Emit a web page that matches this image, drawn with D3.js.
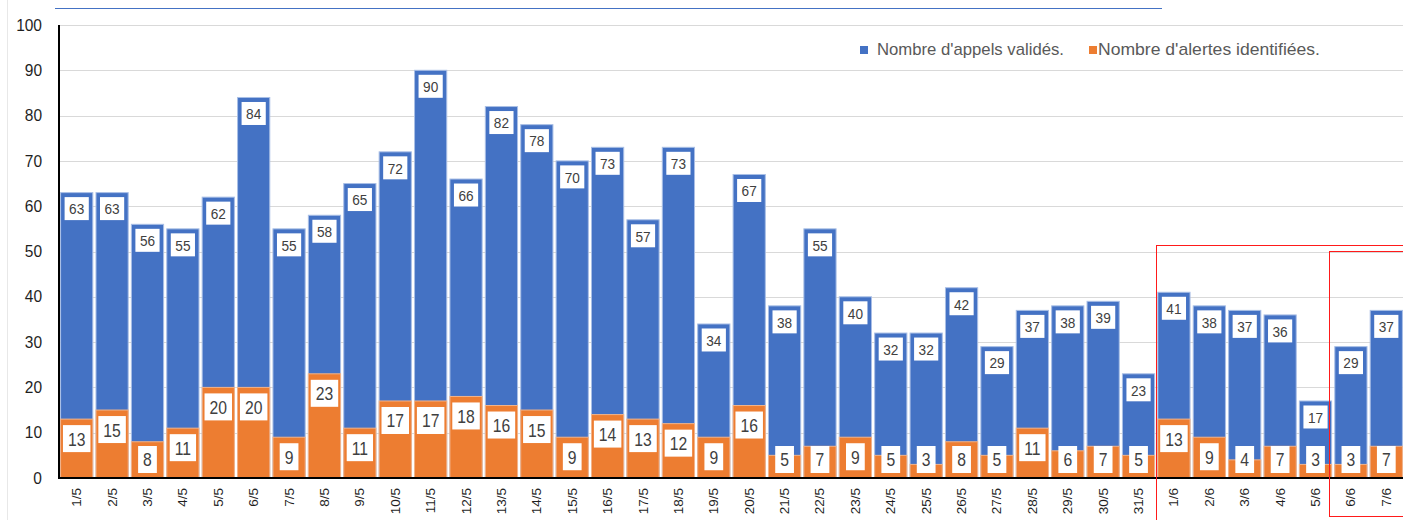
<!DOCTYPE html>
<html><head><meta charset="utf-8">
<script src="https://cdn.jsdelivr.net/npm/d3@7"></script>
<style>
html,body{margin:0;padding:0;background:#fff;}
svg{display:block;}
svg text{font-family:"Liberation Sans",Arial,sans-serif;}
</style></head>
<body><svg id="c" width="1403" height="520"></svg>
<script>
const dates = ["1/5","2/5","3/5","4/5","5/5","6/5","7/5","8/5","9/5","10/5","11/5","12/5","13/5","14/5","15/5","16/5","17/5","18/5","19/5","20/5","21/5","22/5","23/5","24/5","25/5","26/5","27/5","28/5","29/5","30/5","31/5","1/6","2/6","3/6","4/6","5/6","6/6","7/6"];
const appels = [63,63,56,55,62,84,55,58,65,72,90,66,82,78,70,73,57,73,34,67,38,55,40,32,32,42,29,37,38,39,23,41,38,37,36,17,29,37];
const alertes = [13,15,8,11,20,20,9,23,11,17,17,18,16,15,9,14,13,12,9,16,5,7,9,5,3,8,5,11,6,7,5,13,9,4,7,3,3,7];
const yTicks = [0,10,20,30,40,50,60,70,80,90,100];
const seriesNames = ["Nombre d'appels validés.","Nombre d'alertes identifiées."];
const colors = ["#4472C4","#ED7D31"];

const svg = d3.select("#c");
const x = d3.scaleBand().domain(dates).range([59,1404]).paddingInner(0.09).paddingOuter(0.045);
const y = d3.scaleLinear().domain([0,100]).range([478,25]);

// faint left border
svg.append("line").attr("x1",7.5).attr("x2",7.5).attr("y1",0).attr("y2",520).attr("stroke","#e8e8e8");
// top blue line
svg.append("line").attr("x1",55).attr("x2",1162).attr("y1",8.5).attr("y2",8.5).attr("stroke","#4472C4").attr("stroke-width",1);

// grid
svg.append("g").selectAll("line").data(yTicks.filter(d=>d>0)).join("line")
  .attr("x1",59).attr("x2",1403).attr("y1",d=>Math.round(y(d))+0.5).attr("y2",d=>Math.round(y(d))+0.5)
  .attr("stroke","#d9d9d9").attr("stroke-width",1);

// y tick labels
svg.append("g").selectAll("text").data(yTicks).join("text")
  .attr("transform",d=>`translate(42,${y(d)}) scale(0.94,1)`)
  .attr("text-anchor","end").attr("dominant-baseline","central")
  .attr("font-size",16.5).attr("fill","#1f1f1f").text(d=>d);

// blue bars
svg.append("g").selectAll("rect").data(dates).join("rect")
  .attr("x",d=>x(d)).attr("width",x.bandwidth())
  .attr("y",(d,i)=>y(appels[i])).attr("height",(d,i)=>y(0)-y(appels[i]))
  .attr("fill",colors[0]).attr("stroke","#a9bfe6").attr("stroke-width",1);
// orange bars
svg.append("g").selectAll("rect").data(dates).join("rect")
  .attr("x",d=>x(d)).attr("width",x.bandwidth())
  .attr("y",(d,i)=>y(alertes[i])).attr("height",(d,i)=>y(0)-y(alertes[i]))
  .attr("fill",colors[1]).attr("stroke","#f3b48a").attr("stroke-width",1);

// labels
function addLabel(g, cx, top, val, fs, sx, h, pad){
  const t = g.append("text").attr("font-size",fs).attr("fill","#404040")
    .attr("text-anchor","middle").attr("dominant-baseline","central").text(val);
  const w = t.node().getComputedTextLength()*sx + pad;
  g.insert("rect","text").attr("x",cx-w/2).attr("y",top).attr("width",w).attr("height",h).attr("fill","#fff");
  t.attr("transform",`translate(${cx},${top+h/2+0.5}) scale(${sx},1)`);
}
const lg = svg.append("g");
dates.forEach((d,i)=>{
  const cx = x(d)+x.bandwidth()/2;
  addLabel(lg.append("g"), cx, y(appels[i])+4.5, appels[i], 15.5, 0.88, 23, 9);
  addLabel(lg.append("g"), cx, Math.min(y(alertes[i])+6, 446), alertes[i], 18.5, 0.85, 27, 10);
});

// axes lines
svg.append("line").attr("x1",59).attr("x2",59).attr("y1",25).attr("y2",479).attr("stroke","#000").attr("stroke-width",2);
svg.append("line").attr("x1",58).attr("x2",1403).attr("y1",478).attr("y2",478).attr("stroke","#000").attr("stroke-width",2);

// x labels
svg.append("g").selectAll("text").data(dates).join("text")
  .attr("transform",d=>`translate(${x(d)+x.bandwidth()/2},488) rotate(-90)`)
  .attr("text-anchor","end").attr("dominant-baseline","central")
  .attr("font-size",13.5).attr("fill","#1f1f1f").text(d=>d);

// legend
const legX = [860,1089], legTX = [877,1098], legW = [187,222];
seriesNames.forEach((n,i)=>{
  svg.append("rect").attr("x",legX[i]).attr("y",46).attr("width",8).attr("height",8).attr("fill",colors[i]);
  svg.append("text").attr("x",legTX[i]).attr("y",54.5).attr("font-size",17).attr("fill","#595959")
    .attr("textLength",legW[i]).attr("lengthAdjust","spacingAndGlyphs").text(n);
});

// red highlight rectangles
svg.append("rect").attr("x",1156.5).attr("y",245.5).attr("width",260).attr("height",300)
  .attr("fill","none").attr("stroke","#ff1a1a").attr("stroke-width",1);
svg.append("rect").attr("x",1329.5).attr("y",251.5).attr("width",90).attr("height",265)
  .attr("fill","none").attr("stroke","#ff1a1a").attr("stroke-width",1);
</script></body></html>
